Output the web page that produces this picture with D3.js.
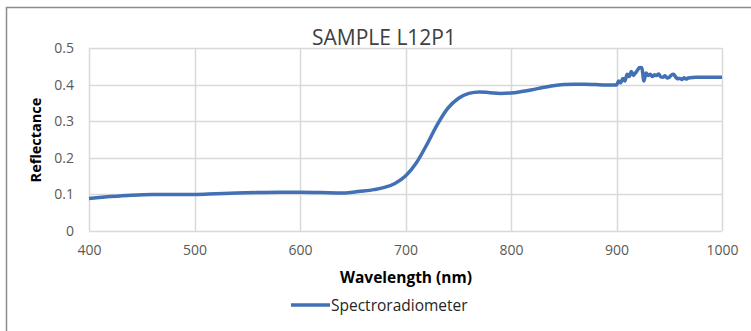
<!DOCTYPE html>
<html>
<head>
<meta charset="utf-8">
<script src="https://cdn.jsdelivr.net/npm/d3@7"></script>
<style>
  body { margin: 0; background: #fff; }
  svg { display: block; }
</style>
</head>
<body>
<svg id="chart" width="751" height="331"></svg>
<script>
// wavelength (nm) and reflectance
const wavelengths = [
  400, 420, 440, 460, 480, 500, 520, 540, 560, 580, 600, 620, 640, 650, 660, 670, 680, 690,
  700, 710, 720, 730, 740, 750, 760, 770, 780, 790, 800, 810, 820, 830, 840, 850, 860, 870,
  880, 890, 900, 902, 904, 906, 908, 910, 912, 914, 916, 918, 920, 922, 924, 926, 928, 930,
  932, 934, 936, 938, 940, 942, 944, 946, 948, 950, 952, 954, 956, 958, 960, 962, 964, 966,
  968, 970, 975, 980, 990, 1000
];
const reflectance = [
  0.089, 0.094, 0.098, 0.100, 0.100, 0.100, 0.102, 0.104, 0.105, 0.106, 0.106, 0.105, 0.104, 0.106, 0.109, 0.113, 0.119, 0.130,
  0.150, 0.185, 0.235, 0.290, 0.335, 0.362, 0.376, 0.380, 0.378, 0.376, 0.377, 0.381, 0.386, 0.392, 0.397, 0.400, 0.401, 0.401,
  0.400, 0.399, 0.399, 0.410, 0.405, 0.417, 0.410, 0.428, 0.422, 0.436, 0.425, 0.432, 0.440, 0.447, 0.446, 0.410, 0.432, 0.425,
  0.428, 0.422, 0.427, 0.425, 0.429, 0.421, 0.420, 0.424, 0.418, 0.420, 0.426, 0.428, 0.421, 0.416, 0.417, 0.414, 0.419, 0.415,
  0.418, 0.419, 0.420, 0.420, 0.420, 0.420
];
const xTicks = [400, 500, 600, 700, 800, 900, 1000];
const yTicks = [0, 0.1, 0.2, 0.3, 0.4, 0.5];

const title = 'SAMPLE L12P1';
const xTitle = 'Wavelength (nm)';
const yTitle = 'Reflectance';
const seriesName = 'Spectroradiometer';

const svg = d3.select('#chart');
const font = 'Open Sans, Noto Sans, sans-serif';
const lineColor = '#4170B4';

// outer chart frame (extends past the right and bottom edges)
svg.append('rect')
  .attr('x', 6.5).attr('y', 7.5)
  .attr('width', 800).attr('height', 400)
  .attr('fill', '#fff')
  .attr('stroke', '#8c8c8c')
  .attr('stroke-width', 1.5);

const margin = { left: 89, right: 751 - 722, top: 48, bottom: 331 - 231 };
const width = 751 - margin.left - margin.right;
const height = 331 - margin.top - margin.bottom;

const x = d3.scaleLinear().domain([400, 1000]).range([0, width]);
const y = d3.scaleLinear().domain([0, 0.5]).range([height, 0]);

const g = svg.append('g')
  .attr('transform', `translate(${margin.left},${margin.top})`);

// grid
g.selectAll('.hgrid')
  .data(yTicks)
  .enter()
  .append('line')
  .attr('x1', 0).attr('x2', width)
  .attr('y1', d => Math.round(y(d)) + 0.5)
  .attr('y2', d => Math.round(y(d)) + 0.5)
  .attr('stroke', '#d9d9d9')
  .attr('stroke-width', 1.5);

g.selectAll('.vgrid')
  .data(xTicks)
  .enter()
  .append('line')
  .attr('y1', 0).attr('y2', height)
  .attr('x1', d => Math.round(x(d)) + 0.5)
  .attr('x2', d => Math.round(x(d)) + 0.5)
  .attr('stroke', '#d9d9d9')
  .attr('stroke-width', 1.5);

// axes (labels only)
const xAxis = g.append('g')
  .attr('transform', `translate(0,${height})`)
  .call(d3.axisBottom(x).tickValues(xTicks).tickSize(0).tickPadding(14).tickFormat(d3.format('d')));
xAxis.select('.domain').remove();

const yAxis = g.append('g')
  .call(d3.axisLeft(y).tickValues(yTicks).tickSize(0).tickPadding(15).tickFormat(d => d === 0 ? '0' : d3.format('.1f')(d)));
yAxis.select('.domain').remove();

g.selectAll('.tick text')
  .attr('font-family', font)
  .attr('font-size', 14)
  .attr('fill', '#595959');

// series line
const line = d3.line()
  .x((d, i) => x(wavelengths[i]))
  .y(d => y(d))
  .curve(d3.curveMonotoneX);

g.append('path')
  .datum(reflectance)
  .attr('fill', 'none')
  .attr('stroke', lineColor)
  .attr('stroke-width', 3.5)
  .attr('stroke-linejoin', 'round')
  .attr('d', line);

// titles
svg.append('text')
  .attr('x', 384).attr('y', 45)
  .attr('text-anchor', 'middle')
  .attr('font-family', font)
  .attr('font-size', 21)
  .attr('fill', '#404040')
  .text(title);

svg.append('text')
  .attr('x', 406).attr('y', 283)
  .attr('text-anchor', 'middle')
  .attr('font-family', font)
  .attr('font-size', 15.5)
  .attr('font-weight', 'bold')
  .attr('fill', '#000')
  .text(xTitle);

svg.append('text')
  .attr('transform', 'translate(41,140) rotate(-90)')
  .attr('text-anchor', 'middle')
  .attr('font-family', font)
  .attr('font-size', 14.5)
  .attr('font-weight', 'bold')
  .attr('fill', '#000')
  .text(yTitle);

// legend
svg.append('line')
  .attr('x1', 291).attr('x2', 330)
  .attr('y1', 305).attr('y2', 305)
  .attr('stroke', lineColor)
  .attr('stroke-width', 3.5);

svg.append('text')
  .attr('x', 331).attr('y', 310.5)
  .attr('font-family', font)
  .attr('font-size', 15.5)
  .attr('fill', '#262626')
  .text(seriesName);
</script>
</body>
</html>
